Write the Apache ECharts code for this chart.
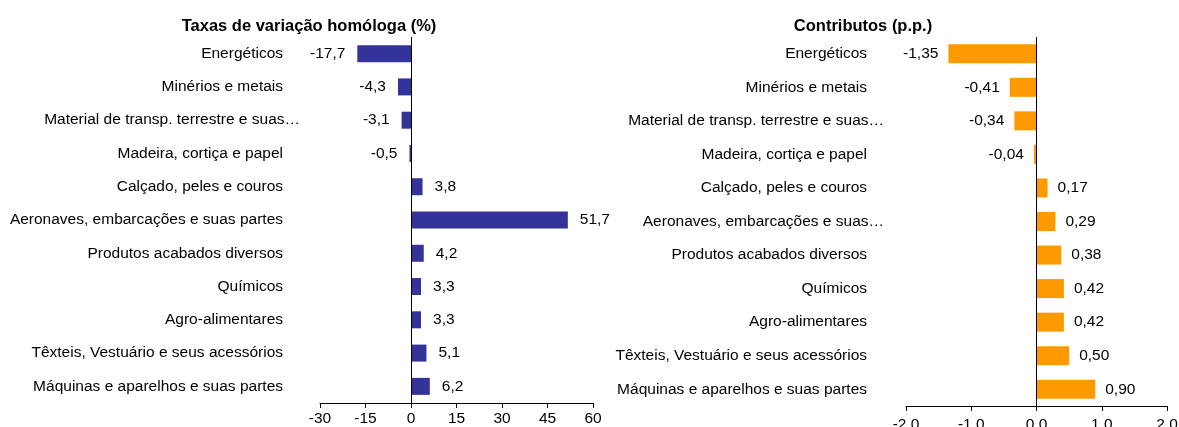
<!DOCTYPE html>
<html>
<head>
<meta charset="utf-8">
<script src="https://cdn.jsdelivr.net/npm/echarts@6/dist/echarts.min.js"></script>
<style>
  html, body { margin: 0; padding: 0; background: #fff; }
  #chart { width: 1179px; height: 427px; }
</style>
</head>
<body>
<div id="chart"></div>
<script>
// categorias (de cima para baixo)
const categoriasTaxas = [
  'Energéticos',
  'Minérios e metais',
  'Material de transp. terrestre e suas…',
  'Madeira, cortiça e papel',
  'Calçado, peles e couros',
  'Aeronaves, embarcações e suas partes',
  'Produtos acabados diversos',
  'Químicos',
  'Agro-alimentares',
  'Têxteis, Vestuário e seus acessórios',
  'Máquinas e aparelhos e suas partes'
]
const categoriasContributos = [
  'Energéticos',
  'Minérios e metais',
  'Material de transp. terrestre e suas…',
  'Madeira, cortiça e papel',
  'Calçado, peles e couros',
  'Aeronaves, embarcações e suas…',
  'Produtos acabados diversos',
  'Químicos',
  'Agro-alimentares',
  'Têxteis, Vestuário e seus acessórios',
  'Máquinas e aparelhos e suas partes'
]
const taxas = [-17.7, -4.3, -3.1, -0.5, 3.8, 51.7, 4.2, 3.3, 3.3, 5.1, 6.2]
const contributos = [-1.35, -0.41, -0.34, -0.04, 0.17, 0.29, 0.38, 0.42, 0.42, 0.50, 0.90]

const FONT = '"Liberation Sans", Arial, sans-serif'
const FS = 15.5

// rótulos: valores negativos à esquerda, positivos à direita
function toData(values, decimals) {
  return values.map(v => ({
    value: v,
    label: {
      position: v < 0 ? 'left' : 'right',
      formatter: () => v.toFixed(decimals).replace('.', ',')
    }
  }))
}

// os rótulos truncados (…) ficam mais à direita, como no original
function catLabel(text) {
  return text.endsWith('…') ? '{t|' + text + '}' : '{n|' + text + '}'
}

const catRich = {
  n: { fontFamily: FONT, fontSize: FS, color: '#000', padding: [0, 17, 0, 0] },
  t: { fontFamily: FONT, fontSize: FS, color: '#000' }
}

const zeroLine = {
  silent: true,
  symbol: 'none',
  label: { show: false },
  lineStyle: { color: '#000', width: 1, type: 'solid' },
  data: [{ xAxis: 0 }]
}

const chart = echarts.init(document.getElementById('chart'))
chart.setOption({
  backgroundColor: '#fff',
  animation: false,
  textStyle: { fontFamily: FONT },
  title: [
    {
      text: 'Taxas de variação homóloga (%)',
      left: 304,
      top: 13,
      textAlign: 'center',
      textStyle: { fontFamily: FONT, fontSize: 16.5, fontWeight: 'bold', color: '#000' }
    },
    {
      text: 'Contributos (p.p.)',
      left: 858,
      top: 13,
      textAlign: 'center',
      textStyle: { fontFamily: FONT, fontSize: 16.5, fontWeight: 'bold', color: '#000' }
    }
  ],
  // outerBoundsMode 'none': os rótulos do eixo da direita podem sair da área, como no original
  grid: [
    { left: 320, right: 586, top: 37, bottom: 24, outerBoundsMode: 'none' },
    { left: 906, right: 12, top: 37, bottom: 21, outerBoundsMode: 'none' }
  ],
  xAxis: [
    {
      gridIndex: 0,
      type: 'value',
      min: -30,
      max: 60,
      interval: 15,
      axisLine: { show: true, onZero: false, lineStyle: { color: '#000', width: 1 } },
      axisTick: { show: true, length: 5, lineStyle: { color: '#000' } },
      splitLine: { show: false },
      axisLabel: { fontFamily: FONT, fontSize: FS, color: '#000', margin: 8 }
    },
    {
      gridIndex: 1,
      type: 'value',
      min: -2,
      max: 2,
      interval: 1,
      axisLine: { show: true, onZero: false, lineStyle: { color: '#000', width: 1 } },
      axisTick: { show: true, length: 5, lineStyle: { color: '#000' } },
      splitLine: { show: false },
      axisLabel: {
        fontFamily: FONT,
        fontSize: FS,
        color: '#000',
        margin: 11,
        formatter: v => v.toFixed(1)
      }
    }
  ],
  yAxis: [
    {
      gridIndex: 0,
      type: 'category',
      inverse: true,
      data: categoriasTaxas,
      axisLine: { show: false, onZero: false },
      axisTick: { show: false },
      axisLabel: { margin: 20, formatter: catLabel, rich: catRich }
    },
    {
      gridIndex: 1,
      type: 'category',
      inverse: true,
      data: categoriasContributos,
      axisLine: { show: false, onZero: false },
      axisTick: { show: false },
      axisLabel: { margin: 22, formatter: catLabel, rich: catRich }
    }
  ],
  series: [
    {
      name: 'Taxas',
      type: 'bar',
      xAxisIndex: 0,
      yAxisIndex: 0,
      barWidth: 17,
      data: toData(taxas, 1),
      itemStyle: { color: '#333399' },
      label: { show: true, distance: 12, fontFamily: FONT, fontSize: FS, color: '#000' },
      markLine: zeroLine
    },
    {
      name: 'Contributos',
      type: 'bar',
      xAxisIndex: 1,
      yAxisIndex: 1,
      barWidth: 19,
      data: toData(contributos, 2),
      itemStyle: { color: '#FF9900' },
      label: { show: true, distance: 10, fontFamily: FONT, fontSize: FS, color: '#000' },
      markLine: zeroLine
    }
  ]
})
</script>
</body>
</html>
